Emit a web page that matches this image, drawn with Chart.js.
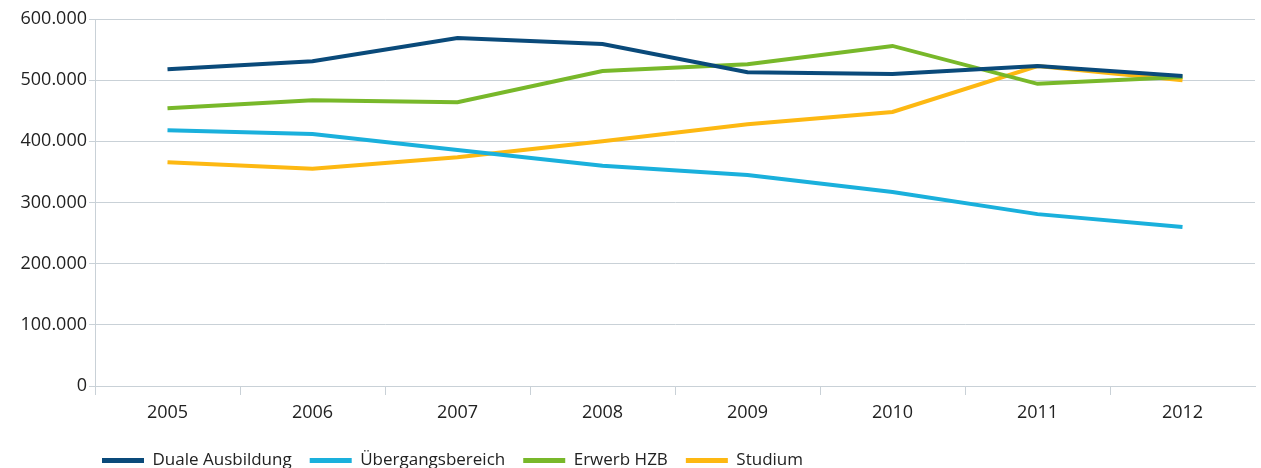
<!DOCTYPE html>
<html><head><meta charset="utf-8">
<script src="https://cdn.jsdelivr.net/npm/chart.js@4/dist/chart.umd.min.js"></script>
<style>html,body{margin:0;padding:0;background:#fff}#wrap{width:1261px;height:468px}</style>
</head><body><div id="wrap"><canvas id="c" width="1261" height="468"></canvas></div>
<script>
const years = ['2005','2006','2007','2008','2009','2010','2011','2012'];
const dualeAusbildung = [518000,531000,569000,559000,513000,510000,523000,507000];
const uebergangsbereich = [418000,412000,386000,360000,345000,317000,281000,260000];
const erwerbHZB = [454000,467000,464000,515000,526000,556000,494000,505000];
const studium = [366000,355000,374000,400000,428000,448000,523000,500000];
const seriesNames = ['Duale Ausbildung','Übergangsbereich','Erwerb HZB','Studium'];
const colors = ['#0a4a7a','#1ab0dc','#78b82a','#fdb812'];

const grid = '#c9d1d7';
const fam = '"Open Sans", "Noto Sans", sans-serif';
const tickFont = {family:fam, size:18};
const legendFont = {family:fam, size:17};
function fmt(v){return String(v).replace(/\B(?=(\d{3})+(?!\d))/g,'.');}
const mk=(label,data,c)=>({label,data,borderColor:c,backgroundColor:c,borderWidth:4,pointRadius:0,tension:0,fill:false});
const shiftLegend={id:'shiftLegend',afterLayout(chart){
  const l=chart.legend; if(!l) return;
  const dx=84, dy=11;
  l.left+=dx; l.right+=dx; l.top+=dy; l.bottom+=dy;
  if(l.legendHitBoxes) l.legendHitBoxes.forEach(h=>{h.left+=dx;h.top+=dy;});
}};
const xTickColor = ctx=>(ctx.type==='tick' && ctx.index<years.length)?grid:'rgba(0,0,0,0)';
new Chart(document.getElementById('c'),{
  type:'line',
  data:{labels:years,datasets:[
    mk(seriesNames[0],dualeAusbildung,colors[0]),
    mk(seriesNames[1],uebergangsbereich,colors[1]),
    mk(seriesNames[2],erwerbHZB,colors[2]),
    mk(seriesNames[3],studium,colors[3])
  ]},
  plugins:[shiftLegend],
  options:{
    responsive:false,animation:false,
    layout:{padding:{top:19,right:6,left:0,bottom:0}},
    plugins:{
      tooltip:{enabled:false},
      legend:{position:'bottom',align:'start',
        labels:{font:legendFont,color:'#222',boxWidth:42,boxHeight:5,padding:18,
          generateLabels(chart){
            const items=Chart.defaults.plugins.legend.labels.generateLabels(chart);
            items.forEach(i=>{i.lineWidth=0;});
            return items;
          }}}
    },
    scales:{
      x:{offset:true,
        grid:{display:true,offset:true,drawOnChartArea:false,tickLength:9,lineWidth:1,
          color:xTickColor,tickColor:xTickColor},
        border:{display:true,color:grid},
        ticks:{font:tickFont,color:'#222',padding:7},
        afterFit(a){a.height=37;}
      },
      y:{min:0,max:600000,
        grid:{color:grid,tickLength:6,lineWidth:1},
        border:{display:true,color:grid},
        ticks:{stepSize:100000,font:tickFont,color:'#222',padding:2,callback:v=>fmt(v)},
        afterFit(a){a.width=95;}
      }
    }
  }
});
</script></body></html>
